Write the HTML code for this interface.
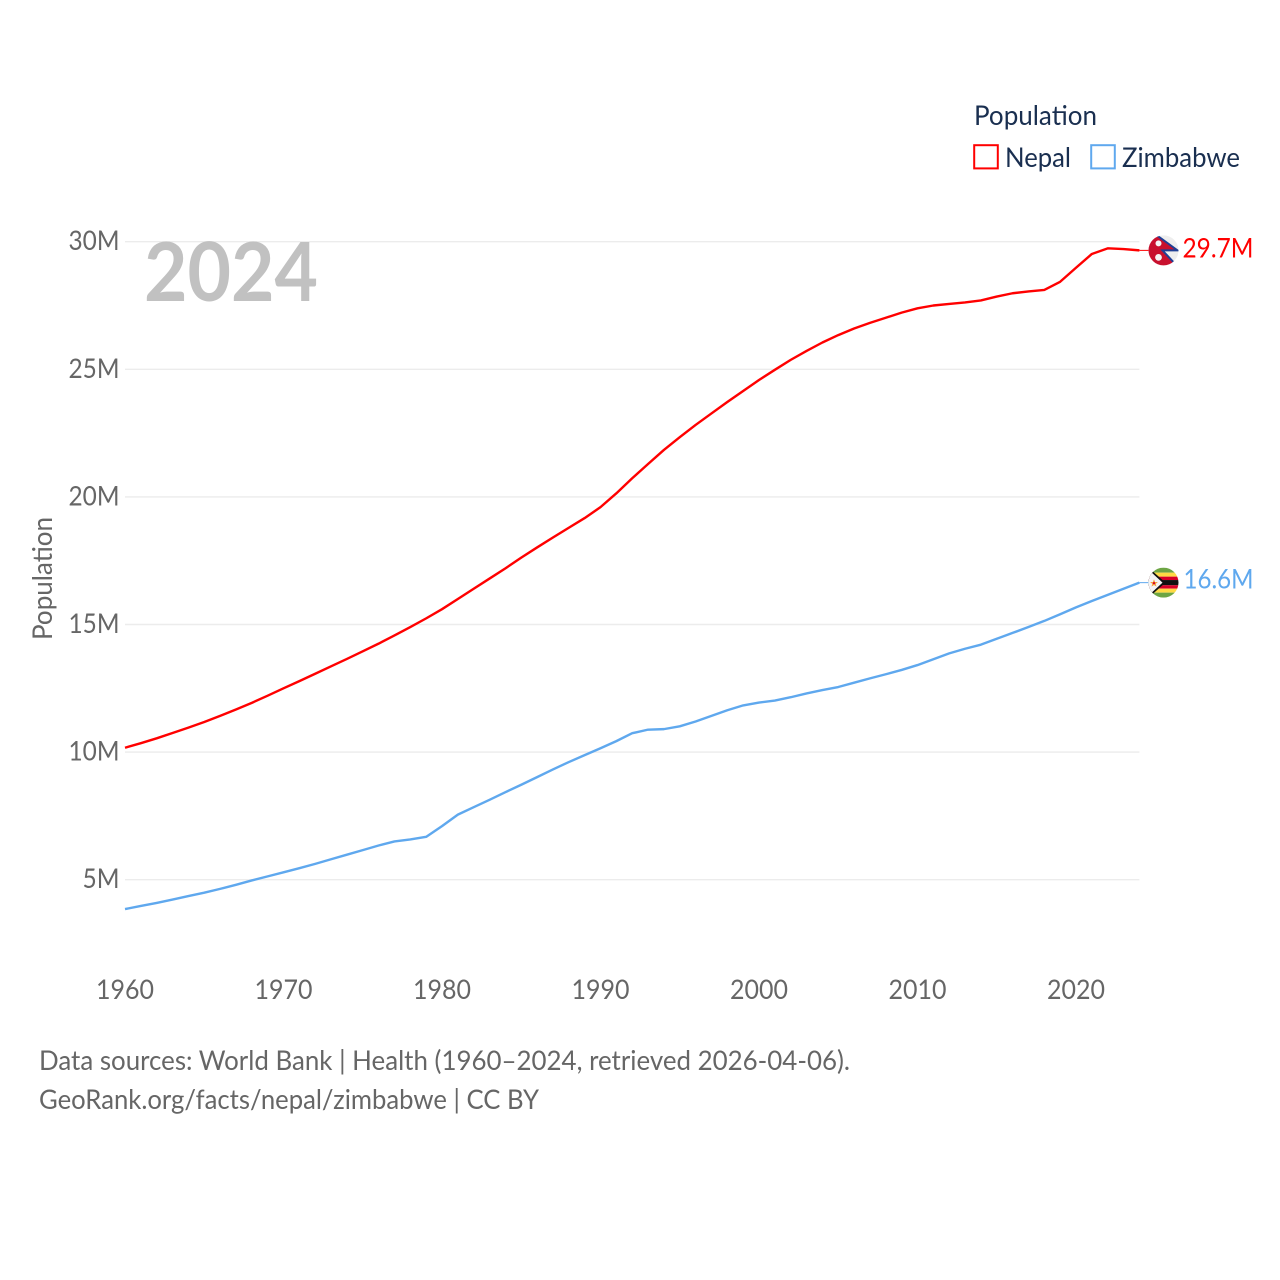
<!DOCTYPE html>
<html lang="en">
<head>
<meta charset="utf-8">
<title>Population: Nepal and Zimbabwe</title>
<style>
html,body{margin:0;padding:0;background:#fff;}
svg{display:block;}
text{font-family:"Lato","Carlito","Liberation Sans",sans-serif;}
</style>
</head>
<body>
<svg id="chart" xmlns="http://www.w3.org/2000/svg" width="1280" height="1280" viewBox="0 0 1280 1280">
  <defs>
    <clipPath id="flag-clip"><circle cx="0" cy="0" r="15"/></clipPath>
  </defs>
  <rect x="0" y="0" width="1280" height="1280" fill="#ffffff"/>
  <g id="grid"></g>
  <g id="yticks"></g>
  <g id="xticks"></g>
  <text x="144" y="301" font-size="81" font-weight="700" fill="#c1c1c1" textLength="174" lengthAdjust="spacingAndGlyphs">2024</text>
  <text transform="translate(52,640) rotate(-90)" font-size="27.5" fill="#666666" textLength="123" lengthAdjust="spacingAndGlyphs">Population</text>
  <g id="series"></g>

  <g id="nepal-flag">
    <g clip-path="url(#flag-clip)">
      <rect x="-15" y="-15" width="30" height="30" fill="#eeeeee"/>
      <polygon points="-16,-20 -8,-16 14,0 -1,0 13,15 13,22 -20,22 -20,-20" fill="#c8102e" stroke="#1f3f94" stroke-width="2"/>
      <circle cx="-5" cy="-7" r="3" fill="#f4f4f4"/>
      <circle cx="-5" cy="7" r="3.4" fill="#f4f4f4"/>
    </g>
  </g>
  <g id="zimbabwe-flag">
    <g clip-path="url(#flag-clip)">
      <rect x="-15" y="-15" width="30" height="5" fill="#6da544"/>
      <rect x="-15" y="-10" width="30" height="4" fill="#ffda44"/>
      <rect x="-15" y="-6" width="30" height="3.4" fill="#d80027"/>
      <rect x="-15" y="-2.6" width="30" height="5.2" fill="#111111"/>
      <rect x="-15" y="2.6" width="30" height="3.4" fill="#d80027"/>
      <rect x="-15" y="6" width="30" height="4" fill="#ffda44"/>
      <rect x="-15" y="10" width="30" height="5" fill="#6da544"/>
      <polygon points="-15,-15 2,0 -15,15" fill="#111111"/>
      <polygon points="-15,-13 -1,0 -15,13" fill="#f4f4f4"/>
      <polygon points="-9.5,-3.4 -8.4,-0.6 -5.6,-0.6 -7.8,1.2 -7,4 -9.5,2.4 -12,4 -11.2,1.2 -13.4,-0.6 -10.6,-0.6" fill="#f5a03c"/>
      <circle cx="-9.5" cy="0.5" r="1.1" fill="#d80027"/>
    </g>
  </g>
  <g id="end-labels"></g>

  <g>
    <text x="974" y="125" font-size="27.5" fill="#1a2f50" textLength="123" lengthAdjust="spacingAndGlyphs">Population</text>
    <g>
      <rect x="974.2" y="145.2" width="23.6" height="23.2" fill="none" stroke="#ff0000" stroke-width="2"/>
      <text x="1005" y="167" font-size="27.5" fill="#1a2f50" textLength="66" lengthAdjust="spacingAndGlyphs">Nepal</text>
    </g>
    <g>
      <rect x="1091.2" y="145.2" width="23.6" height="23.2" fill="none" stroke="#5fa8ee" stroke-width="2"/>
      <text x="1122" y="167" font-size="27.5" fill="#1a2f50" textLength="118" lengthAdjust="spacingAndGlyphs">Zimbabwe</text>
    </g>
  </g>

  <text x="39" y="1070" font-size="27.5" fill="#666666" textLength="811" lengthAdjust="spacingAndGlyphs">Data sources: World Bank | Health (1960–2024, retrieved 2026-04-06).</text>
  <text x="39" y="1109" font-size="27.5" fill="#666666" textLength="500" lengthAdjust="spacingAndGlyphs">GeoRank.org/facts/nepal/zimbabwe | CC BY</text>
</svg>
<script>
const years = [1960,1961,1962,1963,1964,1965,1966,1967,1968,1969,1970,1971,1972,1973,1974,1975,1976,1977,1978,1979,1980,1981,1982,1983,1984,1985,1986,1987,1988,1989,1990,1991,1992,1993,1994,1995,1996,1997,1998,1999,2000,2001,2002,2003,2004,2005,2006,2007,2008,2009,2010,2011,2012,2013,2014,2015,2016,2017,2018,2019,2020,2021,2022,2023,2024];
const nepalValues = [10.17,10.35,10.54,10.75,10.96,11.18,11.42,11.67,11.93,12.21,12.5,12.78,13.07,13.36,13.65,13.95,14.25,14.57,14.9,15.24,15.6,16.0,16.4,16.8,17.2,17.62,18.02,18.41,18.79,19.17,19.6,20.14,20.73,21.29,21.84,22.34,22.82,23.27,23.72,24.15,24.58,24.98,25.37,25.72,26.05,26.34,26.6,26.82,27.02,27.22,27.39,27.5,27.56,27.62,27.7,27.85,27.98,28.05,28.11,28.43,28.98,29.52,29.74,29.71,29.66];
const zimbabweValues = [3.85,3.97,4.09,4.22,4.36,4.49,4.64,4.8,4.97,5.13,5.29,5.45,5.62,5.8,5.98,6.16,6.34,6.5,6.58,6.68,7.1,7.55,7.84,8.13,8.43,8.72,9.02,9.32,9.61,9.88,10.15,10.43,10.74,10.88,10.9,11.01,11.2,11.42,11.64,11.83,11.94,12.02,12.15,12.3,12.43,12.55,12.72,12.89,13.05,13.22,13.41,13.64,13.87,14.05,14.21,14.44,14.67,14.9,15.14,15.4,15.67,15.92,16.16,16.4,16.64];
const xTickYears = [1960,1970,1980,1990,2000,2010,2020];
const yTickValues = [5,10,15,20,25,30];

const NS = 'http://www.w3.org/2000/svg';
const xScale = year => 125 + (year - 1960) * 15.85;
const yScale = value => 241.7 + (30 - value) * 25.52;

function make(tag, parent, attrs) {
  const el = document.createElementNS(NS, tag);
  for (const key in attrs) el.setAttribute(key, attrs[key]);
  parent.appendChild(el);
  return el;
}

const gridGroup = document.getElementById('grid');
const yTickGroup = document.getElementById('yticks');
yTickValues.forEach(value => {
  const gridLine = make('line', gridGroup, {x1: xScale(1960), x2: xScale(2024), y1: yScale(value), y2: yScale(value), stroke: '#ececec', 'stroke-width': 1.4});
  
  
  const label = make('text', yTickGroup, {x: 119.5, y: yScale(value) + 8.5, 'text-anchor': 'end', 'font-size': 27.5, fill: '#666666', textLength: value >= 10 ? 51 : 37, lengthAdjust: 'spacingAndGlyphs'});
  label.textContent = value + 'M';
  
  
});

const xTickGroup = document.getElementById('xticks');
xTickYears.forEach(year => {
  const label = make('text', xTickGroup, {x: xScale(year), y: 999, 'text-anchor': 'middle', 'font-size': 27.5, fill: '#666666', textLength: 58, lengthAdjust: 'spacingAndGlyphs'});
  label.textContent = String(year);
  
  
});

const seriesGroup = document.getElementById('series');
const labelGroup = document.getElementById('end-labels');

function drawSeries(key, values, color, flagId, labelX, labelWidth, labelDy) {
  const pts = values.map((v, i) => xScale(years[i]).toFixed(2) + ',' + yScale(v).toFixed(2)).join(' ');
  const line = make('polyline', seriesGroup, {points: pts, fill: 'none', stroke: color, 'stroke-width': 2.4, 'stroke-linejoin': 'round'});
  
  
  const last = values[values.length - 1];
  const endY = yScale(last);
  const connector = make('line', seriesGroup, {x1: xScale(2024), x2: xScale(2024) + 9, y1: endY, y2: endY, stroke: color, 'stroke-width': 1});
  
  
  document.getElementById(flagId).setAttribute('transform', 'translate(1163.5,' + endY + ')');
  const label = make('text', labelGroup, {x: labelX, y: endY + labelDy, 'font-size': 27.5, fill: color, textLength: labelWidth, lengthAdjust: 'spacingAndGlyphs'});
  label.textContent = last.toFixed(1) + 'M';
  
  
}

drawSeries('nepal', nepalValues, '#ff0000', 'nepal-flag', 1182.5, 71, 7);
drawSeries('zimbabwe', zimbabweValues, '#5fa8ee', 'zimbabwe-flag', 1183.5, 70, 6);
</script>
</body>
</html>
